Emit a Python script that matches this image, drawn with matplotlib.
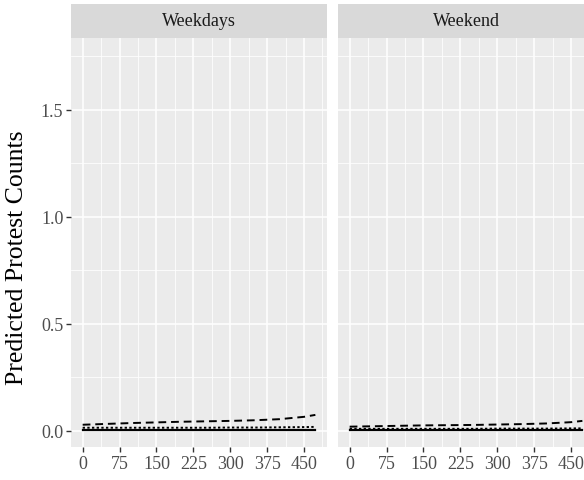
import numpy as np
import matplotlib.pyplot as plt
from matplotlib.ticker import FixedLocator

plt.rcParams['font.family'] = ['Liberation Serif', 'DejaVu Serif']

# panels and curves
panels = ["Weekdays", "Weekend"]
x_vals = [0, 50, 100, 150, 200, 250, 300, 350, 400, 450, 473]

upper_wd = [0.029, 0.033, 0.037, 0.040, 0.043, 0.045, 0.047, 0.050, 0.055, 0.066, 0.075]
mid_wd = [0.015, 0.015, 0.015, 0.015, 0.015, 0.015, 0.016, 0.016, 0.017, 0.018, 0.019]
est_wd = [0.005, 0.005, 0.005, 0.005, 0.005, 0.005, 0.005, 0.005, 0.005, 0.005, 0.005]

upper_we = [0.020, 0.022, 0.024, 0.026, 0.027, 0.028, 0.030, 0.032, 0.035, 0.041, 0.047]
mid_we = [0.010, 0.010, 0.010, 0.010, 0.010, 0.010, 0.011, 0.011, 0.011, 0.012, 0.012]
est_we = [0.004, 0.004, 0.004, 0.004, 0.004, 0.004, 0.004, 0.004, 0.004, 0.004, 0.004]

series = {
    "Weekdays": (upper_wd, mid_wd, est_wd),
    "Weekend": (upper_we, mid_we, est_we),
}

x_ticks = [0, 75, 150, 225, 300, 375, 450]
y_ticks = [0.0, 0.5, 1.0, 1.5]
y_tick_labels = ["0.0", "0.5", "1.0", "1.5"]

W, H = 584, 481
fig = plt.figure(figsize=(W / 100, H / 100), dpi=100)

def box(x0, y0, x1, y1):
    return [x0 / W, 1 - y1 / H, (x1 - x0) / W, (y1 - y0) / H]

lefts = [71, 338]
pw = 256
for i, name in enumerate(panels):
    x0 = lefts[i]
    ax = fig.add_axes(box(x0, 39, x0 + pw, 448))
    ax.set_facecolor('#EBEBEB')
    for s in ax.spines.values():
        s.set_visible(False)
    ax.set_xlim(-23.65, 496.65)
    ax.set_ylim(-0.075, 1.836)
    ax.xaxis.set_major_locator(FixedLocator(x_ticks))
    ax.xaxis.set_minor_locator(FixedLocator([37.5, 112.5, 187.5, 262.5, 337.5, 412.5, 487.5]))
    ax.yaxis.set_major_locator(FixedLocator(y_ticks))
    ax.yaxis.set_minor_locator(FixedLocator([0.25, 0.75, 1.25, 1.75]))
    ax.grid(which='major', color='white', linewidth=1.1)
    ax.grid(which='minor', color='white', linewidth=0.55)
    ax.set_axisbelow(True)
    ax.tick_params(which='minor', length=0)
    ax.tick_params(which='major', length=3.5, width=1.0, color='#333333',
                   labelcolor='#4D4D4D', labelsize=13, pad=2)
    if i == 0:
        ax.set_yticklabels(y_tick_labels)
    else:
        ax.tick_params(axis='y', length=0, labelleft=False)

    upper, mid, est = series[name]
    ax.plot(x_vals, upper, color='black', linewidth=1.4, linestyle=(0, (4, 2.5)))
    ax.plot(x_vals, mid, color='black', linewidth=1.4, linestyle=(0, (1.2, 1.2)))
    ax.plot(x_vals, est, color='black', linewidth=1.6, linestyle='-')

    sax = fig.add_axes(box(x0, 5, x0 + pw, 39))
    sax.set_facecolor('#D9D9D9')
    sax.set_xticks([])
    sax.set_yticks([])
    for s in sax.spines.values():
        s.set_visible(False)
    sax.text(0.5, 0.5, name, transform=sax.transAxes, ha='center', va='center',
             fontsize=13, color='#1A1A1A')

fig.text(17 / W, 1 - 258 / H, "Predicted Protest Counts", rotation=90,
         ha='center', va='center', fontsize=18.5, color='black')

fig.savefig("out.png", dpi=100)
